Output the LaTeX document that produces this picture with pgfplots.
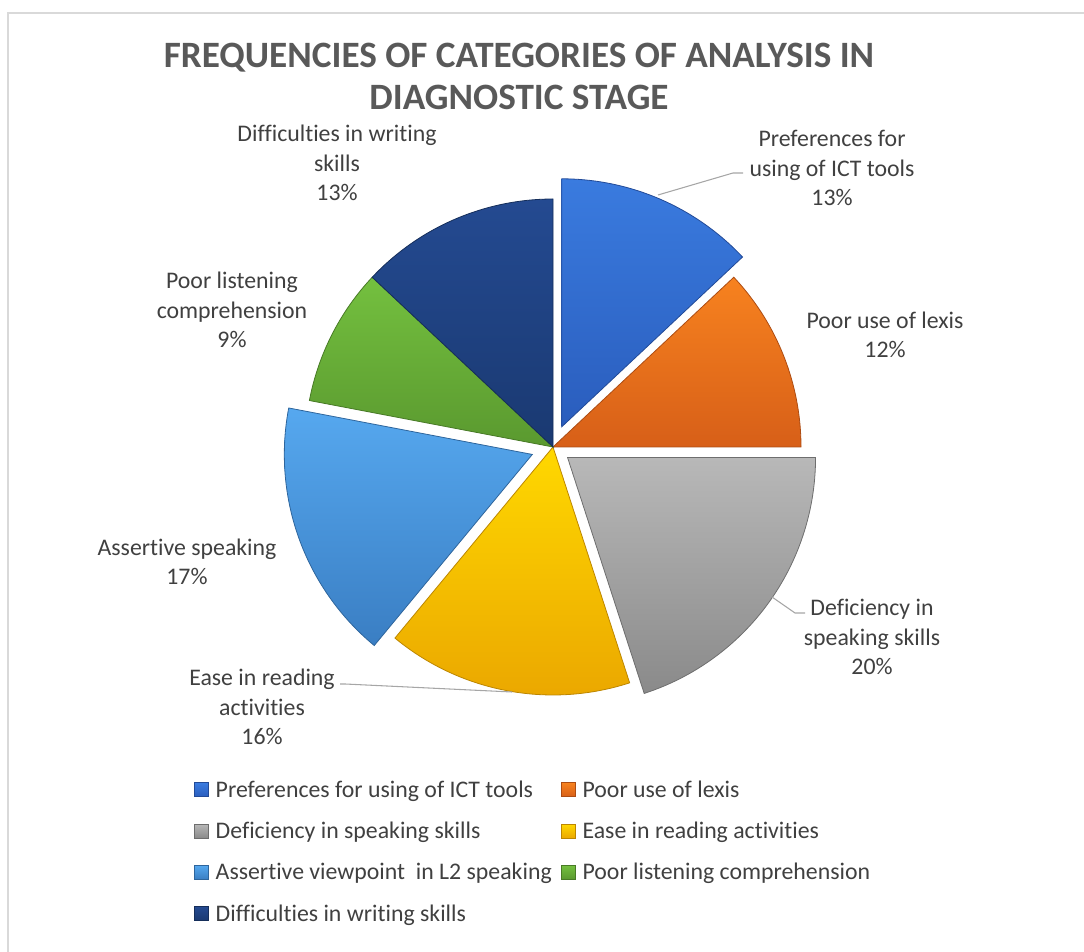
\documentclass[border=0pt]{standalone}
\usepackage{pgfplots}
\pgfplotsset{compat=1.18}
\usepackage{fontspec}
\setmainfont{Carlito}[Ligatures=NoCommon]
\definecolor{labelgray}{HTML}{404040}
\definecolor{titlegray}{HTML}{595959}
\definecolor{framegray}{HTML}{D9D9D9}
\definecolor{leadgray}{HTML}{A6A6A6}
\definecolor{prefT}{HTML}{3A7BDF}\definecolor{prefB}{HTML}{2A5DBD}
\definecolor{lexT}{HTML}{F7821F}\definecolor{lexB}{HTML}{D75F18}
\definecolor{defT}{HTML}{B8B8B8}\definecolor{defB}{HTML}{8A8A8A}
\definecolor{easT}{HTML}{FFD800}\definecolor{easB}{HTML}{EBA800}
\definecolor{assT}{HTML}{56A8EF}\definecolor{assB}{HTML}{3A7EC3}
\definecolor{lisT}{HTML}{74C03F}\definecolor{lisB}{HTML}{5A992F}
\definecolor{wriT}{HTML}{244A91}\definecolor{wriB}{HTML}{1A3971}
% #1 start (%), #2 value (%), #3 explosion (px), #4 top colour, #5 bottom colour, #6 legend text
\newcommand{\pieslice}[6]{%
  \addplot[draw=#5!80!black, line width=0.6pt, top color=#4, bottom color=#5]
  ({553 + #3*cos(90-3.6*(#1+#2/2)) + ((\t<0.5) ? 0 : 248*cos(90-3.6*(#1+#2*(\t-1)/59)))},
   {505 + #3*sin(90-3.6*(#1+#2/2)) + ((\t<0.5) ? 0 : 248*sin(90-3.6*(#1+#2*(\t-1)/59)))}) -- cycle;
  \addlegendentry{#6}
}
\newcommand{\lblfont}{\fontsize{17.85}{22}\selectfont}
\begin{document}
\begin{tikzpicture}
\begin{axis}[
  scale only axis, width=813pt, height=714pt,
  xmin=0, xmax=1084, ymin=0, ymax=952,
  hide axis, clip=false,
  variable=\t, domain=0:60, samples=61,
  legend columns=2,
  legend cell align=left,
  legend image code/.code={\draw[#1] (0pt,-5pt) rectangle (10.5pt,5.5pt);},
  legend style={at={(axis cs:194,174)}, anchor=north west, draw=none, fill=none,
    font=\fontsize{17.85}{21}\selectfont, text=labelgray, row sep=13pt, inner sep=0pt,
    /tikz/every odd column/.append style={column sep=3pt},
    /tikz/every even column/.append style={column sep=5pt}},
]
\pieslice{0}{13}{22}{prefT}{prefB}{Preferences for using of ICT tools}
\pieslice{13}{12}{0}{lexT}{lexB}{Poor use of lexis}
\pieslice{25}{20}{18}{defT}{defB}{Deficiency in speaking skills}
\pieslice{45}{16}{0}{easT}{easB}{Ease in reading activities}
\pieslice{61}{17}{22}{assT}{assB}{Assertive viewpoint~ in L2 speaking}
\pieslice{78}{9}{0}{lisT}{lisB}{Poor listening comprehension}
\pieslice{87}{13}{0}{wriT}{wriB}{Difficulties in writing skills}
% leader lines
\addplot[leadgray, line width=0.8pt, forget plot] coordinates {(658,757) (733,779) (743,779)};
\addplot[leadgray, line width=0.8pt, forget plot] coordinates {(772,355) (795,339) (805,339)};
\addplot[leadgray, line width=0.8pt, forget plot] coordinates {(512,260) (345,268) (340,268)};
% data labels
\node[font=\lblfont, align=center, text=labelgray] at (axis cs:832,784) {Preferences for\\using of ICT tools\\13\%};
\node[font=\lblfont, align=center, text=labelgray] at (axis cs:885,617) {Poor use of lexis\\12\%};
\node[font=\lblfont, align=center, text=labelgray] at (axis cs:872,315) {Deficiency in\\speaking skills\\20\%};
\node[font=\lblfont, align=center, text=labelgray] at (axis cs:262,245) {Ease in reading\\activities\\16\%};
\node[font=\lblfont, align=center, text=labelgray] at (axis cs:187,390) {Assertive speaking\\17\%};
\node[font=\lblfont, align=center, text=labelgray] at (axis cs:232,642) {Poor listening\\comprehension\\9\%};
\node[font=\lblfont, align=center, text=labelgray] at (axis cs:337,789) {Difficulties in writing\\skills\\13\%};
% title
\node[font=\fontsize{27.9}{31.5}\selectfont\bfseries, align=center, text=titlegray] at (axis cs:519,876) {FREQUENCIES OF CATEGORIES OF ANALYSIS IN\\DIAGNOSTIC STAGE};
\end{axis}
\draw[framegray, line width=1.5pt] (6pt,0pt) -- (6pt,704.25pt) -- (813pt,704.25pt);
\pgfresetboundingbox
\useasboundingbox (0,0) rectangle (813pt,714pt);
\end{tikzpicture}
\end{document}
